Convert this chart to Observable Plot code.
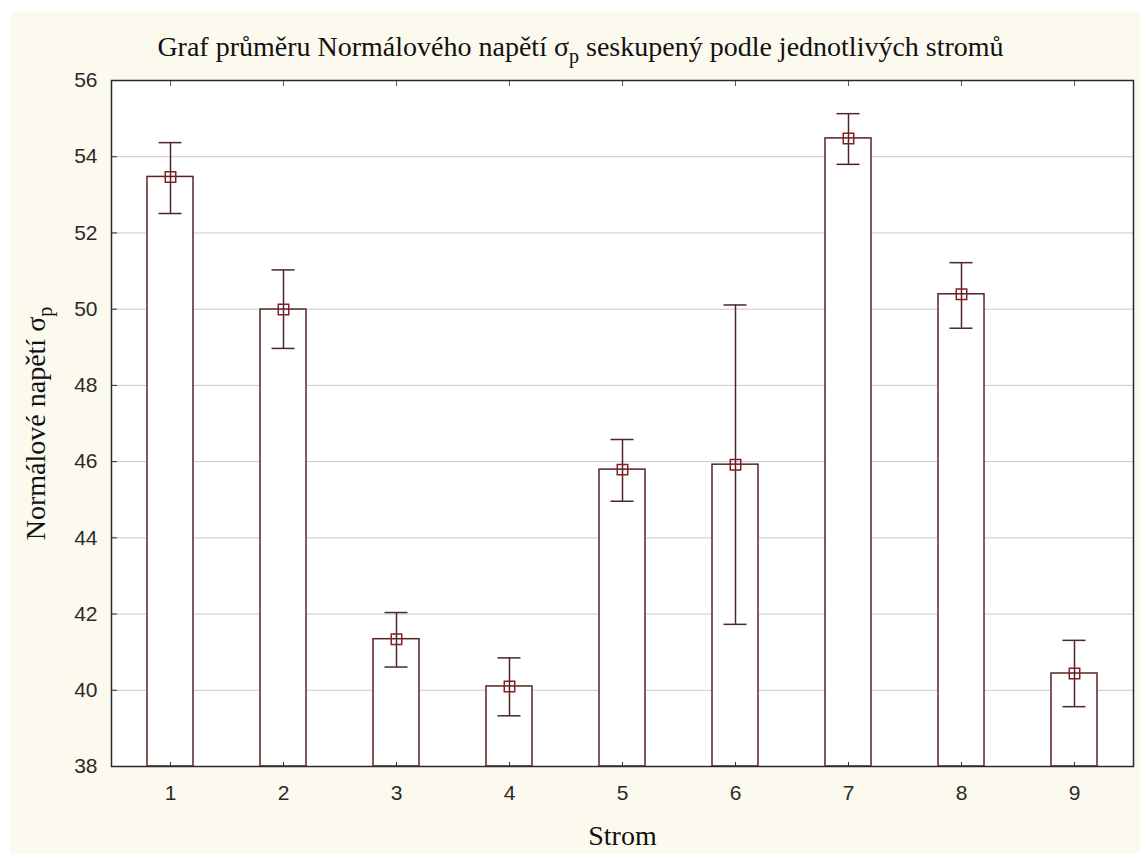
<!DOCTYPE html>
<html><head><meta charset="utf-8">
<script src="https://cdn.jsdelivr.net/npm/d3@7"></script>
<script src="https://cdn.jsdelivr.net/npm/@observablehq/plot@0.6"></script>
<style>
html,body{margin:0;padding:0;background:#fff;}
#wrap{padding:12px 0 0 10px;width:1130px;height:842px;}
#wrap svg{display:block;}
</style></head><body><div id="wrap"></div>
<script>
const strom = ["1","2","3","4","5","6","7","8","9"];
const means = [53.47, 49.99, 41.34, 40.10, 45.79, 45.92, 54.48, 50.39, 40.44];
const upper = [54.37, 51.03, 42.04, 40.85, 46.58, 50.11, 55.13, 51.22, 41.31];
const lower = [52.51, 48.97, 40.61, 39.33, 44.96, 41.73, 53.80, 49.50, 39.57];
const yTicks = [38, 40, 42, 44, 46, 48, 50, 52, 54, 56];
const yDomain = [38, 56];
const titleText = "Graf průměru Normálového napětí σp seskupený podle jednotlivých stromů";
const yLabel = "Normálové napětí σp";
const xLabel = "Strom";

const data = strom.map((s, i) => ({strom: s, mean: means[i], hi: upper[i], lo: lower[i], base: yDomain[0]}));

const serif = "'Liberation Serif','Times New Roman',serif";
const sans = "'Liberation Sans',Arial,sans-serif";
const barStroke = "#5a2222";
const errStroke = "#4d2626";

const chart = Plot.plot({
  width: 1130, height: 842,
  marginLeft: 101, marginRight: 7, marginTop: 68, marginBottom: 88,
  style: {background: "#fcf9ee", fontFamily: sans, fontSize: "21px", color: "#2a2a2a", overflow: "visible"},
  x: {type: "band", domain: strom, paddingInner: 0.594, paddingOuter: 0.297},
  y: {domain: yDomain},
  marks: [
    Plot.frame({fill: "white", stroke: null}),
    Plot.gridY(yTicks.slice(1, -1), {stroke: "#c9c9c9", strokeOpacity: 1}),
    Plot.barY(data, {x: "strom", y1: "base", y2: "mean", fill: "white", stroke: barStroke, strokeWidth: 1.5}),
    Plot.ruleX(data, {x: "strom", y1: "lo", y2: "hi", stroke: errStroke, strokeWidth: 1.5}),
    Plot.tickY(data, {x: "strom", y: "hi", stroke: errStroke, strokeWidth: 1.5, insetLeft: 11.5, insetRight: 11.5}),
    Plot.tickY(data, {x: "strom", y: "lo", stroke: errStroke, strokeWidth: 1.5, insetLeft: 11.5, insetRight: 11.5}),
    Plot.dot(data, {x: "strom", y: "mean", symbol: "square", r: 5.9, stroke: "#8b1a26", fill: "none", strokeWidth: 1.5}),
    Plot.axisY({ticks: yTicks, tickSize: 0, tickPadding: 14, label: null}),
    Plot.axisY({ticks: yTicks, tickSize: -6, fill: "none", stroke: "#333", label: null}),
    Plot.axisX({anchor: "bottom", tickSize: 0, tickPadding: 19, label: null}),
    Plot.axisX({anchor: "bottom", tickSize: -4, fill: "none", stroke: "#333", label: null}),
    Plot.axisX({anchor: "top", tickSize: -5, fill: "none", stroke: "#555", label: null}),
    Plot.frame({stroke: "#2a2a2a", strokeWidth: 1.5}),
    Plot.text([titleText], {text: d => d, frameAnchor: "top", dx: -42, dy: -33, lineAnchor: "middle", textAnchor: "middle", fontFamily: serif, fontSize: 28, fill: "#111"}),
    Plot.text([yLabel], {text: d => d, frameAnchor: "left", rotate: -90, dx: -75, lineAnchor: "middle", textAnchor: "middle", fontFamily: serif, fontSize: 28, fill: "#111"}),
    Plot.text([xLabel], {text: d => d, frameAnchor: "bottom", dy: 70, lineAnchor: "middle", textAnchor: "middle", fontFamily: serif, fontSize: 28, fill: "#111"})
  ]
});

// subscript p after sigma
d3.select(chart).selectAll("text").each(function () {
  const t = this.textContent;
  const i = t.indexOf("σp");
  if (i >= 0) {
    const sel = d3.select(this);
    sel.text(null);
    sel.append("tspan").text(t.slice(0, i + 1));
    sel.append("tspan").attr("dy", 7).attr("font-size", 20).text("p");
    sel.append("tspan").attr("dy", -7).text(t.slice(i + 2));
  }
});

document.getElementById("wrap").appendChild(chart);
</script></body></html>
